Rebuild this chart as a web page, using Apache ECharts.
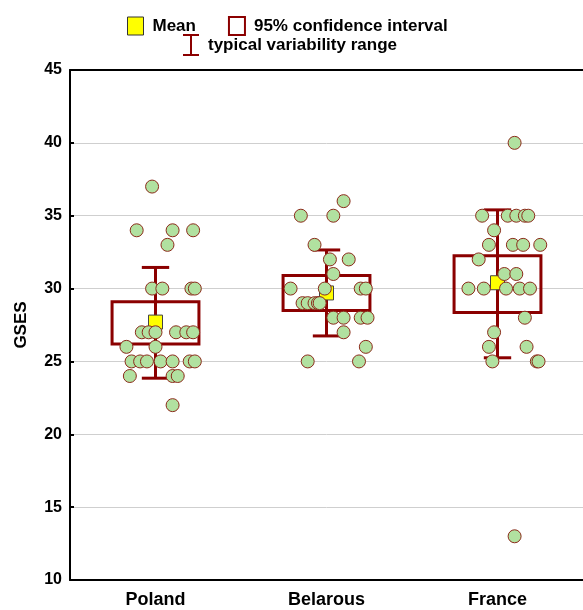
<!DOCTYPE html>
<html>
<head>
<meta charset="utf-8">
<script src="https://cdn.jsdelivr.net/npm/echarts@6/dist/echarts.min.js"></script>
<style>
    html, body {margin: 0; padding: 0; background: #fff;}
    #chart {width: 583px; height: 610px;}
</style>
</head>
<body>
<div id="chart"></div>
<script>
const categories = ['Poland', 'Belarous', 'France'];

// raw scores and horizontal jitter (category units) for each group
const polandScores = [37, 34, 34, 34, 33, 30, 30, 30, 30, 27, 27, 27, 27, 27, 27, 26, 26, 25, 25, 25, 25, 25, 25, 25, 24, 24, 24, 22];
const polandJitter = [-0.02, -0.11, 0.10, 0.22, 0.07, -0.02, 0.04, 0.21, 0.23, -0.08, -0.04, 0.00, 0.12, 0.18, 0.22, -0.17, 0.00, -0.14, -0.09, -0.05, 0.03, 0.10, 0.20, 0.23, -0.15, 0.10, 0.13, 0.10];
const belarousScores = [36, 35, 35, 33, 32, 32, 31, 30, 30, 30, 30, 29, 29, 29, 29, 29, 28, 28, 28, 28, 27, 26, 25, 25];
const belarousJitter = [0.10, -0.15, 0.04, -0.07, 0.02, 0.13, 0.04, -0.21, -0.01, 0.20, 0.23, -0.14, -0.11, -0.07, -0.05, -0.04, 0.04, 0.10, 0.20, 0.24, 0.10, 0.23, -0.11, 0.19];
const franceScores = [40, 35, 35, 35, 35, 35, 34, 33, 33, 33, 33, 32, 31, 31, 30, 30, 30, 30, 30, 28, 27, 26, 26, 25, 25, 25, 13];
const franceJitter = [0.10, -0.09, 0.06, 0.11, 0.16, 0.18, -0.02, -0.05, 0.09, 0.15, 0.25, -0.11, 0.04, 0.11, -0.17, -0.08, 0.05, 0.13, 0.19, 0.16, -0.02, -0.05, 0.17, -0.03, 0.23, 0.24, 0.10];

const means = [27.7, 29.7, 30.4];
const ciLow = [26.2, 28.5, 28.35];
const ciHigh = [29.1, 30.9, 32.25];
const rangeLow = [23.85, 26.75, 25.25];
const rangeHigh = [31.45, 32.65, 35.4];

const yTicks = {min: 10, max: 45, interval: 5};

const groups = [
    {scores: polandScores, jitter: polandJitter},
    {scores: belarousScores, jitter: belarousJitter},
    {scores: franceScores, jitter: franceJitter},
];

let points = [];
groups.forEach((g, i) => {
    for (let k = 0; k < g.scores.length; k++) {
        points.push([i + 0.5 + g.jitter[k], g.scores[k]]);
    }
});

const boxData = categories.map((c, i) => [i + 0.5, ciLow[i], ciHigh[i]]);
const rangeData = categories.map((c, i) => [i + 0.5, rangeLow[i], rangeHigh[i]]);
const meanData = categories.map((c, i) => [i + 0.5, means[i]]);

const darkRed = '#8b0000';
const font = 'Liberation Sans, Arial, sans-serif';
const legendText = {fontFamily: font, fontWeight: 'bold', fontSize: 17, color: '#000', padding: [0, 0, 0, 4]};

let myChart = echarts.init(document.getElementById('chart'));
myChart.setOption({
    animation: false,
    textStyle: {fontFamily: font},
    grid: {left: 70, right: 0, top: 70, bottom: 30},
    legend: [{
        top: 11,
        left: 122,
        itemGap: 32,
        itemWidth: 16,
        itemHeight: 18,
        selectedMode: false,
        textStyle: legendText,
        data: [
            {name: 'Mean', icon: 'rect', itemStyle: {color: '#ffff00', borderColor: '#333', borderWidth: 1}},
            {name: '95% confidence interval', icon: 'rect', itemStyle: {color: '#fff', borderColor: darkRed, borderWidth: 2}}
        ]
    }, {
        top: 29,
        left: 178,
        itemWidth: 16,
        itemHeight: 22,
        selectedMode: false,
        textStyle: legendText,
        data: [{
            name: 'typical variability range',
            icon: 'path://M0,0 H16 V2 H9 V20 H16 V22 H0 V20 H7 V2 H0 Z',
            itemStyle: {color: darkRed}
        }]
    }],
    xAxis: [{
        type: 'category',
        data: categories,
        position: 'bottom',
        axisLine: {lineStyle: {color: '#000', width: 2}},
        axisTick: {inside: true, alignWithLabel: true, length: 5, lineStyle: {color: '#000', width: 2}},
        axisLabel: {color: '#000', fontWeight: 'bold', fontSize: 18, margin: 11, fontFamily: font}
    }, {
        type: 'category',
        data: categories,
        position: 'top',
        axisLine: {lineStyle: {color: '#000', width: 2}},
        axisTick: {inside: true, alignWithLabel: true, length: 5, lineStyle: {color: '#000', width: 2}},
        axisLabel: {show: false}
    }, {
        type: 'value',
        min: 0,
        max: 3,
        show: false
    }],
    yAxis: {
        type: 'value',
        min: yTicks.min,
        max: yTicks.max,
        interval: yTicks.interval,
        name: 'GSES',
        nameLocation: 'middle',
        nameGap: 40,
        nameTextStyle: {color: '#000', fontWeight: 'bold', fontSize: 17, fontFamily: font},
        axisLine: {show: true, lineStyle: {color: '#000', width: 2}},
        axisTick: {show: true, inside: true, length: 4, lineStyle: {color: '#000', width: 2}},
        axisLabel: {color: '#000', fontWeight: 'bold', fontSize: 16, margin: 8, fontFamily: font},
        splitLine: {lineStyle: {color: '#cfcfcf', width: 1}}
    },
    series: [{
        name: '95% confidence interval',
        type: 'custom',
        xAxisIndex: 2,
        data: boxData,
        encode: {x: 0, y: [1, 2]},
        z: 2,
        renderItem: function (params, api) {
            const x = api.value(0);
            const p1 = api.coord([x - 0.254, api.value(2)]);
            const p2 = api.coord([x + 0.254, api.value(1)]);
            return {
                type: 'rect',
                shape: {x: p1[0], y: p1[1], width: p2[0] - p1[0], height: p2[1] - p1[1]},
                style: {fill: 'none', stroke: darkRed, lineWidth: 3}
            };
        }
    }, {
        name: 'typical variability range',
        type: 'custom',
        xAxisIndex: 2,
        data: rangeData,
        encode: {x: 0, y: [1, 2]},
        z: 1,
        renderItem: function (params, api) {
            const x = api.value(0);
            const lo = api.coord([x, api.value(1)]);
            const hi = api.coord([x, api.value(2)]);
            const cap = api.size([0.08, 0])[0];
            const style = {stroke: darkRed, lineWidth: 3};
            return {
                type: 'group',
                children: [
                    {type: 'line', shape: {x1: lo[0], y1: lo[1], x2: hi[0], y2: hi[1]}, style: style},
                    {type: 'line', shape: {x1: lo[0] - cap, y1: lo[1], x2: lo[0] + cap, y2: lo[1]}, style: style},
                    {type: 'line', shape: {x1: hi[0] - cap, y1: hi[1], x2: hi[0] + cap, y2: hi[1]}, style: style}
                ]
            };
        }
    }, {
        name: 'Mean',
        type: 'scatter',
        xAxisIndex: 2,
        data: meanData,
        symbol: 'rect',
        symbolSize: 14,
        z: 3,
        itemStyle: {color: '#ffff00', borderColor: '#444', borderWidth: 1, opacity: 1}
    }, {
        name: 'scores',
        type: 'scatter',
        xAxisIndex: 2,
        data: points,
        symbolSize: 13,
        z: 4,
        itemStyle: {color: '#b1e1a0', borderColor: '#8b2a1a', borderWidth: 1, opacity: 1}
    }]
});
</script>
</body>
</html>
